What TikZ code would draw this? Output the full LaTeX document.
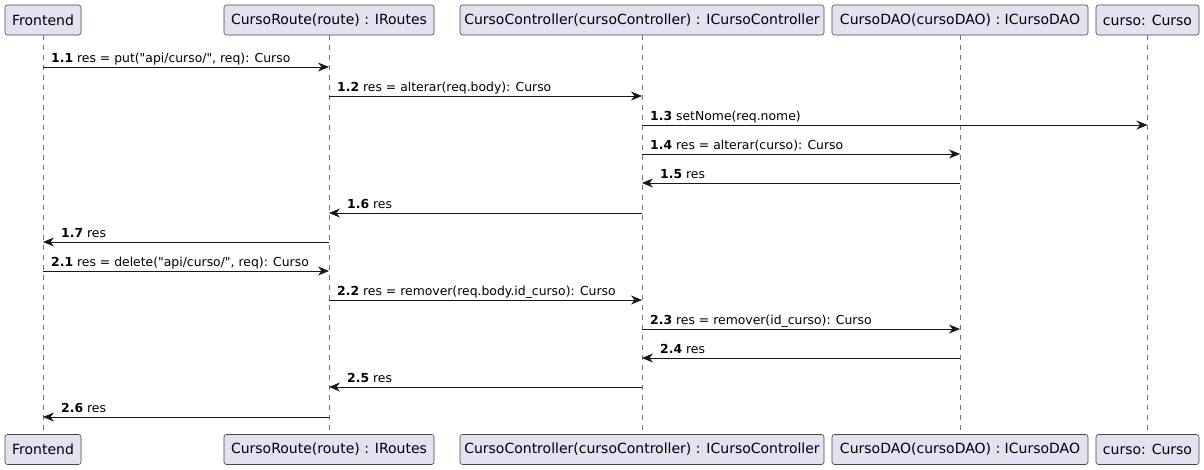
\documentclass[tikz,border=0pt]{standalone}
\usepackage{fontspec}
\newfontfamily\umlfont{DejaVu Sans}
\usetikzlibrary{arrows.meta, positioning}
\definecolor{BoxFill}{HTML}{E2E2F0}
\definecolor{LineDark}{HTML}{181818}

\begin{document}
\begin{tikzpicture}[x=1pt, y=-1pt,
	actor/.style={draw=LineDark!80, fill=BoxFill, rounded corners=2.5pt, line width=0.6pt,
		minimum height=30pt, inner sep=0pt, font=\umlfont\fontsize{14}{16}\selectfont},
	lifeline/.style={draw=LineDark!60, dash pattern=on 5pt off 5pt, line width=0.6pt},
	msg/.style={draw=LineDark, line width=0.8pt, -{Stealth[length=11pt, width=9pt, inset=3.5pt]}},
	msglabel/.style={anchor=base west, inner sep=0pt, font=\umlfont\fontsize{12.4}{15}\selectfont}]
	\useasboundingbox (0,0) rectangle (1204,469);
	\foreach \n/\x/\w/\t in {fe/43/76/Frontend, rt/329/210/{CursoRoute(route) : IRoutes},
		ct/642/364/{CursoController(cursoController) : ICursoController},
		da/960/256/{CursoDAO(cursoDAO) : ICursoDAO}, cu/1147.5/103/{curso: Curso}}
	{
		\node[actor, minimum width=\w pt] (\n-top) at (\x,20) {\t};
		\node[actor, minimum width=\w pt] (\n-bot) at (\x,449.5) {\t};
		\draw[lifeline] (\n-top) -- (\n-bot);
	}
	\foreach \y/\a/\b/\l/\o/\num/\t [count=\i] in {
		67/fe/rt/fe/8/1.1/{res = put("api/curso/", req): Curso},
		96/rt/ct/rt/8/1.2/{res = alterar(req.body): Curso},
		125/ct/cu/ct/8/1.3/{setNome(req.nome)},
		154/ct/da/ct/8/1.4/{res = alterar(curso): Curso},
		183/da/ct/ct/18/1.5/res,
		213/ct/rt/rt/18/1.6/res,
		242/rt/fe/fe/18/1.7/res,
		271/fe/rt/fe/8/2.1/{res = delete("api/curso/", req): Curso},
		300/rt/ct/rt/8/2.2/{res = remover(req.body.id\_curso): Curso},
		329/ct/da/ct/8/2.3/{res = remover(id\_curso): Curso},
		358/da/ct/ct/18/2.4/res,
		387/ct/rt/rt/18/2.5/res,
		417/rt/fe/fe/18/2.6/res}
	{
		\draw[msg] (\a-top |- 0,\y) -- (\b-top |- 0,\y);
		\node[msglabel] (lab\i) at ([xshift=\o pt, yshift=5pt]\l-top |- 0,\y) {\textbf{\num} \t};
	}
\end{tikzpicture}
\end{document}
